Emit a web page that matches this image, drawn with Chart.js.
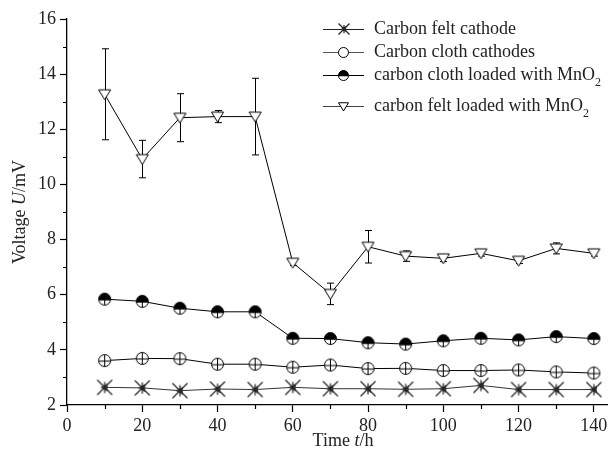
<!DOCTYPE html>
<html>
<head>
<meta charset="utf-8">
<script src="https://cdn.jsdelivr.net/npm/chart.js@4"></script>
<style>
  html, body { margin: 0; padding: 0; background: #fff; }
  #wrap { width: 614px; height: 456px; }
</style>
</head>
<body>
<div id="wrap"><canvas id="chart" width="614" height="456"></canvas></div>
<script>
// DATA
const time = [10, 20, 30, 40, 50, 60, 70, 80, 90, 100, 110, 120, 130, 140];
const feltCathode = [2.64, 2.62, 2.52, 2.58, 2.56, 2.64, 2.59, 2.59, 2.57, 2.59, 2.71, 2.56, 2.56, 2.56];
const clothCathode = [3.61, 3.69, 3.68, 3.48, 3.48, 3.37, 3.45, 3.32, 3.33, 3.25, 3.25, 3.27, 3.20, 3.16];
const clothMnO2 = [5.84, 5.76, 5.51, 5.38, 5.38, 4.42, 4.41, 4.26, 4.21, 4.33, 4.42, 4.36, 4.48, 4.41];
const feltMnO2 = [13.27, 10.92, 12.42, 12.46, 12.46, 7.16, 6.03, 7.74, 7.40, 7.32, 7.50, 7.23, 7.68, 7.50];
const feltMnO2Err = [1.65, 0.68, 0.87, 0.22, 1.39, 0.10, 0.39, 0.59, 0.19, 0.12, 0.10, 0.10, 0.20, 0.10];
const xTicks = [0, 20, 40, 60, 80, 100, 120, 140];
const yTicks = [2, 4, 6, 8, 10, 12, 14, 16];

const FONT = "'Liberation Serif', 'Times New Roman', serif";

// MARKERS
function marker(size, draw) {
  const c = document.createElement("canvas");
  c.width = size; c.height = size;
  const g = c.getContext("2d");
  g.strokeStyle = "#000";
  g.lineWidth = 1;
  draw(g, size / 2);
  return c;
}

function feltCathodeMark(r) {
  return marker(2 * r + 3, (g, c) => {
    g.fillStyle = "#444";
    g.beginPath();
    g.moveTo(c - r * 0.6, c); g.lineTo(c + r * 0.4, c - r * 0.55); g.lineTo(c + r * 0.4, c + r * 0.55); g.closePath();
    g.fill();
    g.strokeStyle = "#222";
    g.lineWidth = 1.2;
    g.beginPath();
    g.moveTo(c - r, c - r); g.lineTo(c + r, c + r);
    g.moveTo(c + r, c - r); g.lineTo(c - r, c + r);
    g.moveTo(c, c - r * 0.75); g.lineTo(c, c + r * 0.75);
    g.stroke();
  });
}

function circleMark(r, half, plus) {
  return marker(2 * r + 3, (g, c) => {
    g.fillStyle = "#fff";
    g.beginPath(); g.arc(c, c, r, 0, Math.PI * 2); g.fill();
    if (half) {
      g.fillStyle = "#000";
      g.beginPath(); g.arc(c, c, r, Math.PI - 0.15, Math.PI * 2 + 0.15); g.closePath(); g.fill();
    }
    g.beginPath(); g.arc(c, c, r, 0, Math.PI * 2); g.stroke();
    if (plus) {
      g.beginPath();
      g.moveTo(c - r, c + 0.5); g.lineTo(c + r, c + 0.5);
      g.moveTo(c, half ? c : c - r); g.lineTo(c, c + r);
      g.stroke();
    }
  });
}

function triangleMark(r) {
  return marker(2 * r + 3, (g, c) => {
    g.fillStyle = "#fff";
    g.beginPath();
    g.moveTo(c - r, c - r * 0.75); g.lineTo(c + r, c - r * 0.75); g.lineTo(c, c + r * 0.9); g.closePath();
    g.fill(); g.stroke();
  });
}

const mFeltCathode = feltCathodeMark(7.5);
const mClothCathode = circleMark(6, false, true);
const mClothMnO2 = circleMark(6, true, true);
const mFeltMnO2 = triangleMark(6);

const legendMarks = [feltCathodeMark(5.5), circleMark(5, false, false), circleMark(5, true, false), triangleMark(5)];

// ERROR BARS + MINOR TICKS + TITLES + LEGEND
const extras = {
  id: "extras",
  beforeDatasetsDraw(chart) {
    const g = chart.ctx, xs = chart.scales.x, ys = chart.scales.y;
    g.save();
    g.strokeStyle = "#000";
    g.lineWidth = 1;
    time.forEach((t, i) => {
      const px = Math.round(xs.getPixelForValue(t)) + 0.5;
      const top = ys.getPixelForValue(feltMnO2[i] + feltMnO2Err[i]);
      const bot = ys.getPixelForValue(feltMnO2[i] - feltMnO2Err[i]);
      g.beginPath();
      g.moveTo(px, top); g.lineTo(px, bot);
      g.moveTo(px - 3.5, top); g.lineTo(px + 3.5, top);
      g.moveTo(px - 3.5, bot); g.lineTo(px + 3.5, bot);
      g.stroke();
    });
    g.restore();
  },
  afterDraw(chart) {
    const g = chart.ctx, xs = chart.scales.x, ys = chart.scales.y;
    const area = chart.chartArea;
    g.save();
    g.strokeStyle = "#000";
    g.lineWidth = 1.2;
    g.beginPath();
    for (let v = 3; v < 16; v += 2) {
      const py = Math.round(ys.getPixelForValue(v)) + 0.5;
      g.moveTo(area.left - 4, py); g.lineTo(area.left, py);
    }
    for (let v = 10; v < 144; v += 20) {
      const px = Math.round(xs.getPixelForValue(v)) + 0.5;
      g.moveTo(px, area.bottom); g.lineTo(px, area.bottom + 4);
    }
    g.stroke();

    // axis titles with italic symbol
    g.fillStyle = "#222";
    g.textBaseline = "middle";
    function parts(list, x, y) {
      let w = 0;
      list.forEach(p => { g.font = (p[1] ? "italic " : "") + "18px " + FONT; w += g.measureText(p[0]).width; });
      let cx = x - w / 2;
      list.forEach(p => {
        g.font = (p[1] ? "italic " : "") + "18px " + FONT;
        g.textAlign = "left";
        g.fillText(p[0], cx, y);
        cx += g.measureText(p[0]).width;
      });
    }
    parts([["Time ", false], ["t", true], ["/h", false]], 343, 441);
    g.save();
    g.translate(20, 212);
    g.rotate(-Math.PI / 2);
    parts([["Voltage ", false], ["U", true], ["/mV", false]], 0, 0);
    g.restore();

    // legend
    const rows = [
      { y: 29, text: "Carbon felt cathode", sub: false, col: "#222" },
      { y: 52, text: "Carbon cloth cathodes", sub: false, col: "#555" },
      { y: 75, text: "carbon cloth loaded with MnO", sub: true, col: "#000" },
      { y: 106, text: "carbon felt loaded with MnO", sub: true, col: "#444" }
    ];
    rows.forEach((r, i) => {
      const img = legendMarks[i];
      g.strokeStyle = r.col;
      g.lineWidth = 1;
      g.beginPath();
      g.moveTo(323, r.y + 0.5); g.lineTo(364, r.y + 0.5);
      g.stroke();
      g.drawImage(img, Math.round(343.5 - img.width / 2), Math.round(r.y - img.height / 2));
      g.font = "18px " + FONT;
      g.textAlign = "left";
      g.fillStyle = "#222";
      g.fillText(r.text, 374, r.y);
      if (r.sub) {
        const w = g.measureText(r.text).width;
        g.font = "12px " + FONT;
        g.fillText("2", 374 + w, r.y + 8);
      }
    });
    g.restore();
  }
};

function series(data, img, col) {
  return {
    data: time.map((t, i) => ({ x: t, y: data[i] })),
    borderColor: col,
    borderWidth: 1,
    pointStyle: img,
    pointRadius: 6,
    pointHoverRadius: 6,
    showLine: true,
    fill: false
  };
}

new Chart(document.getElementById("chart"), {
  type: "scatter",
  data: {
    datasets: [
      series(feltCathode, mFeltCathode, "#333"),
      series(clothCathode, mClothCathode, "#000"),
      series(clothMnO2, mClothMnO2, "#000"),
      series(feltMnO2, mFeltMnO2, "#000")
    ]
  },
  options: {
    responsive: false,
    animation: false,
    devicePixelRatio: 1,
    layout: { padding: { top: 19, right: 0, left: 0, bottom: 0 } },
    plugins: { legend: { display: false }, tooltip: { enabled: false } },
    scales: {
      x: {
        type: "linear",
        min: 0,
        max: 143.5,
        afterBuildTicks: s => { s.ticks = xTicks.map(v => ({ value: v })); },
        afterFit: s => { s.height = 51; },
        border: { display: true, color: "#000", width: 1.3 },
        grid: { drawOnChartArea: false, drawTicks: true, tickLength: 7, color: "#000", tickWidth: 1.2 },
        ticks: { color: "#222", padding: 3, font: { family: FONT, size: 18 }, maxRotation: 0 }
      },
      y: {
        type: "linear",
        min: 2,
        max: 16,
        afterBuildTicks: s => { s.ticks = yTicks.map(v => ({ value: v })); },
        afterFit: s => { s.width = 67; },
        border: { display: true, color: "#000", width: 1.3 },
        grid: { drawOnChartArea: false, drawTicks: true, tickLength: 7, color: "#000", tickWidth: 1.2 },
        ticks: { color: "#222", padding: 4, font: { family: FONT, size: 18 } }
      }
    }
  },
  plugins: [extras]
});
</script>
</body>
</html>
